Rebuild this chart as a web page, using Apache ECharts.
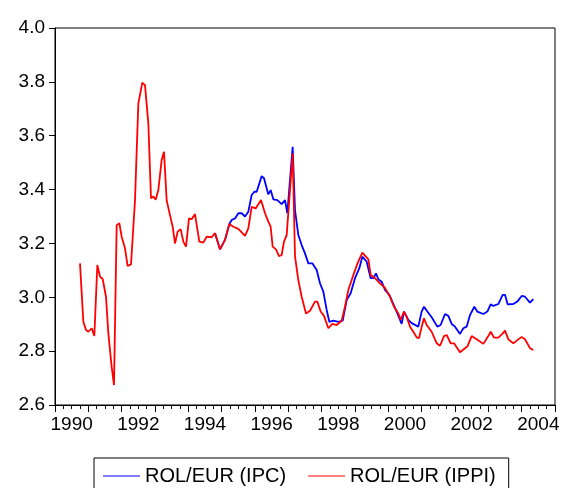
<!DOCTYPE html>
<html>
<head>
<meta charset="utf-8">
<script src="https://cdn.jsdelivr.net/npm/echarts@6/dist/echarts.min.js"></script>
<style>
  html, body { margin: 0; padding: 0; background: #fff; }
  #chart { width: 563px; height: 488px; }
</style>
</head>
<body>
<div id="chart"></div>
<script>
// x = decimal year at each visible vertex
const ippiYears = [
  1990.75, 1990.85, 1990.93, 1991.00, 1991.10, 1991.18, 1991.27, 1991.35, 1991.43, 1991.53,
  1991.60, 1991.70, 1991.77, 1991.85, 1991.93, 1992.00, 1992.10, 1992.18, 1992.28, 1992.40,
  1992.50, 1992.62, 1992.70, 1992.80, 1992.88, 1992.95, 1993.02, 1993.10, 1993.20, 1993.27,
  1993.35, 1993.45, 1993.53, 1993.60, 1993.68, 1993.77, 1993.85, 1993.93, 1994.02, 1994.10,
  1994.20, 1994.33, 1994.45, 1994.55, 1994.70, 1994.80, 1994.95, 1995.10, 1995.23, 1995.35,
  1995.50, 1995.70, 1995.80, 1995.90, 1996.02, 1996.18, 1996.30, 1996.40, 1996.47, 1996.53,
  1996.63, 1996.72, 1996.80, 1996.87, 1996.95, 1997.05, 1997.13, 1997.20, 1997.30, 1997.40,
  1997.53, 1997.65, 1997.80, 1997.87, 1997.97, 1998.07, 1998.20, 1998.32, 1998.45, 1998.60,
  1998.70, 1998.80, 1998.95, 1999.07, 1999.22, 1999.40, 1999.47, 1999.60, 1999.75, 1999.90,
  2000.05, 2000.17, 2000.30, 2000.37, 2000.47, 2000.55, 2000.65, 2000.75, 2000.85, 2000.92,
  2001.00, 2001.07, 2001.15, 2001.30, 2001.45, 2001.55, 2001.67, 2001.75, 2001.87, 2001.97,
  2002.15, 2002.30, 2002.37, 2002.50, 2002.65, 2002.85, 2003.00, 2003.07, 2003.17, 2003.30,
  2003.42, 2003.50, 2003.60, 2003.75, 2003.87, 2004.00, 2004.10, 2004.25, 2004.35
];
const ippiValues = [
  3.126, 2.909, 2.879, 2.872, 2.885, 2.856, 3.120, 3.077, 3.068, 3.002,
  2.866, 2.742, 2.674, 3.268, 3.275, 3.225, 3.182, 3.116, 3.122, 3.360,
  3.720, 3.797, 3.788, 3.646, 3.368, 3.374, 3.362, 3.398, 3.510, 3.540,
  3.360, 3.305, 3.262, 3.200, 3.244, 3.253, 3.207, 3.188, 3.293, 3.290,
  3.309, 3.207, 3.203, 3.225, 3.223, 3.238, 3.178, 3.213, 3.272, 3.262,
  3.254, 3.228, 3.256, 3.336, 3.330, 3.361, 3.312, 3.281, 3.262, 3.188,
  3.178, 3.153, 3.157, 3.207, 3.231, 3.398, 3.535, 3.152, 3.064, 3.002,
  2.940, 2.950, 2.984, 2.984, 2.947, 2.931, 2.885, 2.901, 2.897, 2.913,
  2.965, 3.027, 3.083, 3.124, 3.166, 3.141, 3.083, 3.071, 3.052, 3.035,
  3.002, 2.965, 2.940, 2.916, 2.947, 2.928, 2.891, 2.872, 2.851, 2.848,
  2.891, 2.922, 2.897, 2.872, 2.829, 2.820, 2.856, 2.860, 2.829, 2.829,
  2.796, 2.811, 2.817, 2.856, 2.844, 2.827, 2.856, 2.872, 2.850, 2.850,
  2.864, 2.876, 2.844, 2.829, 2.841, 2.853, 2.844, 2.811, 2.804
];

// IPC series: hidden under IPPI before 1995, so only its visible part is listed
const ipcYears = [
  1994.80, 1994.95, 1995.10, 1995.23, 1995.30, 1995.40, 1995.50, 1995.60, 1995.70, 1995.80,
  1995.90, 1995.98, 1996.05, 1996.20, 1996.27, 1996.40, 1996.47, 1996.55, 1996.67, 1996.80,
  1996.90, 1996.97, 1997.05, 1997.13, 1997.20, 1997.30, 1997.40, 1997.50, 1997.60, 1997.72,
  1997.85, 1997.95, 1998.05, 1998.15, 1998.23, 1998.35, 1998.40, 1998.50, 1998.63, 1998.75,
  1998.87, 1999.00, 1999.13, 1999.22, 1999.35, 1999.47, 1999.55, 1999.63, 1999.70, 1999.80,
  1999.90, 2000.03, 2000.15, 2000.27, 2000.40, 2000.47, 2000.60, 2000.70, 2000.90, 2001.00,
  2001.07, 2001.17, 2001.30, 2001.47, 2001.57, 2001.70, 2001.80, 2001.90, 2002.00, 2002.15,
  2002.25, 2002.35, 2002.45, 2002.58, 2002.67, 2002.85, 2002.97, 2003.07, 2003.15, 2003.30,
  2003.43, 2003.50, 2003.58, 2003.75, 2003.87, 2004.00, 2004.10, 2004.25, 2004.35
];
const ipcValues = [
  3.238, 3.178, 3.213, 3.272, 3.287, 3.293, 3.312, 3.312, 3.300, 3.318,
  3.380, 3.392, 3.392, 3.450, 3.442, 3.382, 3.398, 3.364, 3.361, 3.346,
  3.361, 3.312, 3.436, 3.559, 3.324, 3.231, 3.194, 3.163, 3.126, 3.126,
  3.101, 3.052, 3.021, 2.953, 2.909, 2.913, 2.916, 2.909, 2.913, 2.990,
  3.015, 3.071, 3.108, 3.151, 3.132, 3.071, 3.071, 3.089, 3.067, 3.058,
  3.027, 3.009, 2.975, 2.940, 2.901, 2.947, 2.916, 2.904, 2.891, 2.947,
  2.965, 2.947, 2.926, 2.891, 2.897, 2.938, 2.931, 2.901, 2.891, 2.864,
  2.885, 2.891, 2.934, 2.965, 2.947, 2.938, 2.947, 2.974, 2.968, 2.975,
  3.009, 3.009, 2.974, 2.975, 2.984, 3.005, 3.002, 2.980, 2.993
];

const seriesNames = ['ROL/EUR (IPC)', 'ROL/EUR (IPPI)'];
const yTicks = [2.6, 2.8, 3.0, 3.2, 3.4, 3.6, 3.8, 4.0];

const FONT = '"Liberation Sans", Arial, sans-serif';
const zip = (xs, ys) => xs.map((x, i) => [x, ys[i]]);

const chart = echarts.init(document.getElementById('chart'), null, { renderer: 'canvas' });

chart.setOption({
  animation: false,
  backgroundColor: '#fff',
  grid: {
    left: 55, right: 8, top: 28, bottom: 83,
    show: true, borderColor: '#000', borderWidth: 1, backgroundColor: 'transparent'
  },
  legend: {
    left: 94, top: 458,
    data: seriesNames,
    // plain thin line as legend key, no marker dot
    icon: 'path://M0,0H37V1.2H0Z',
    itemWidth: 37, itemHeight: 14, itemGap: 22,
    padding: [8, 13, 20, 9],
    borderColor: '#000', borderWidth: 1,
    textStyle: { fontFamily: FONT, fontSize: 20, color: '#000' }
  },
  xAxis: [
    {
      // year boundaries: major tick each year, minor ticks within
      type: 'value', min: 1990, max: 2005, interval: 1,
      axisLine: { lineStyle: { color: '#000', width: 1 } },
      axisTick: { length: 7, lineStyle: { color: '#000' } },
      minorTick: { show: true, splitNumber: 4, length: 4, lineStyle: { color: '#000' } },
      axisLabel: { show: false },
      splitLine: { show: false }
    },
    {
      // label axis shifted half a year so years sit centred in their span
      type: 'value', position: 'bottom', min: 1989.5, max: 2004.5, interval: 0.5,
      axisLine: { show: false },
      axisTick: { show: false },
      splitLine: { show: false },
      axisLabel: {
        margin: 10, fontFamily: FONT, fontSize: 19, color: '#000',
        formatter: v => (Math.abs(v - Math.round(v)) < 1e-6 && Math.round(v) % 2 === 0) ? String(Math.round(v)) : ''
      }
    }
  ],
  yAxis: {
    type: 'value', min: yTicks[0], max: yTicks[yTicks.length - 1], interval: 0.2,
    axisLine: { show: true, lineStyle: { color: '#000', width: 1 } },
    axisTick: { show: true, length: 6, lineStyle: { color: '#000' } },
    splitLine: { show: false },
    axisLabel: {
      margin: 10, fontFamily: FONT, fontSize: 19, color: '#000',
      formatter: v => v.toFixed(1)
    }
  },
  series: [
    {
      name: seriesNames[0], type: 'line', xAxisIndex: 0,
      data: zip(ipcYears, ipcValues),
      symbol: 'none', color: '#0000ff',
      lineStyle: { width: 1.8, color: '#0000ff' }
    },
    {
      name: seriesNames[1], type: 'line', xAxisIndex: 0,
      data: zip(ippiYears, ippiValues),
      symbol: 'none', color: '#ff0000',
      lineStyle: { width: 1.8, color: '#ff0000' }
    }
  ]
});
</script>
</body>
</html>
